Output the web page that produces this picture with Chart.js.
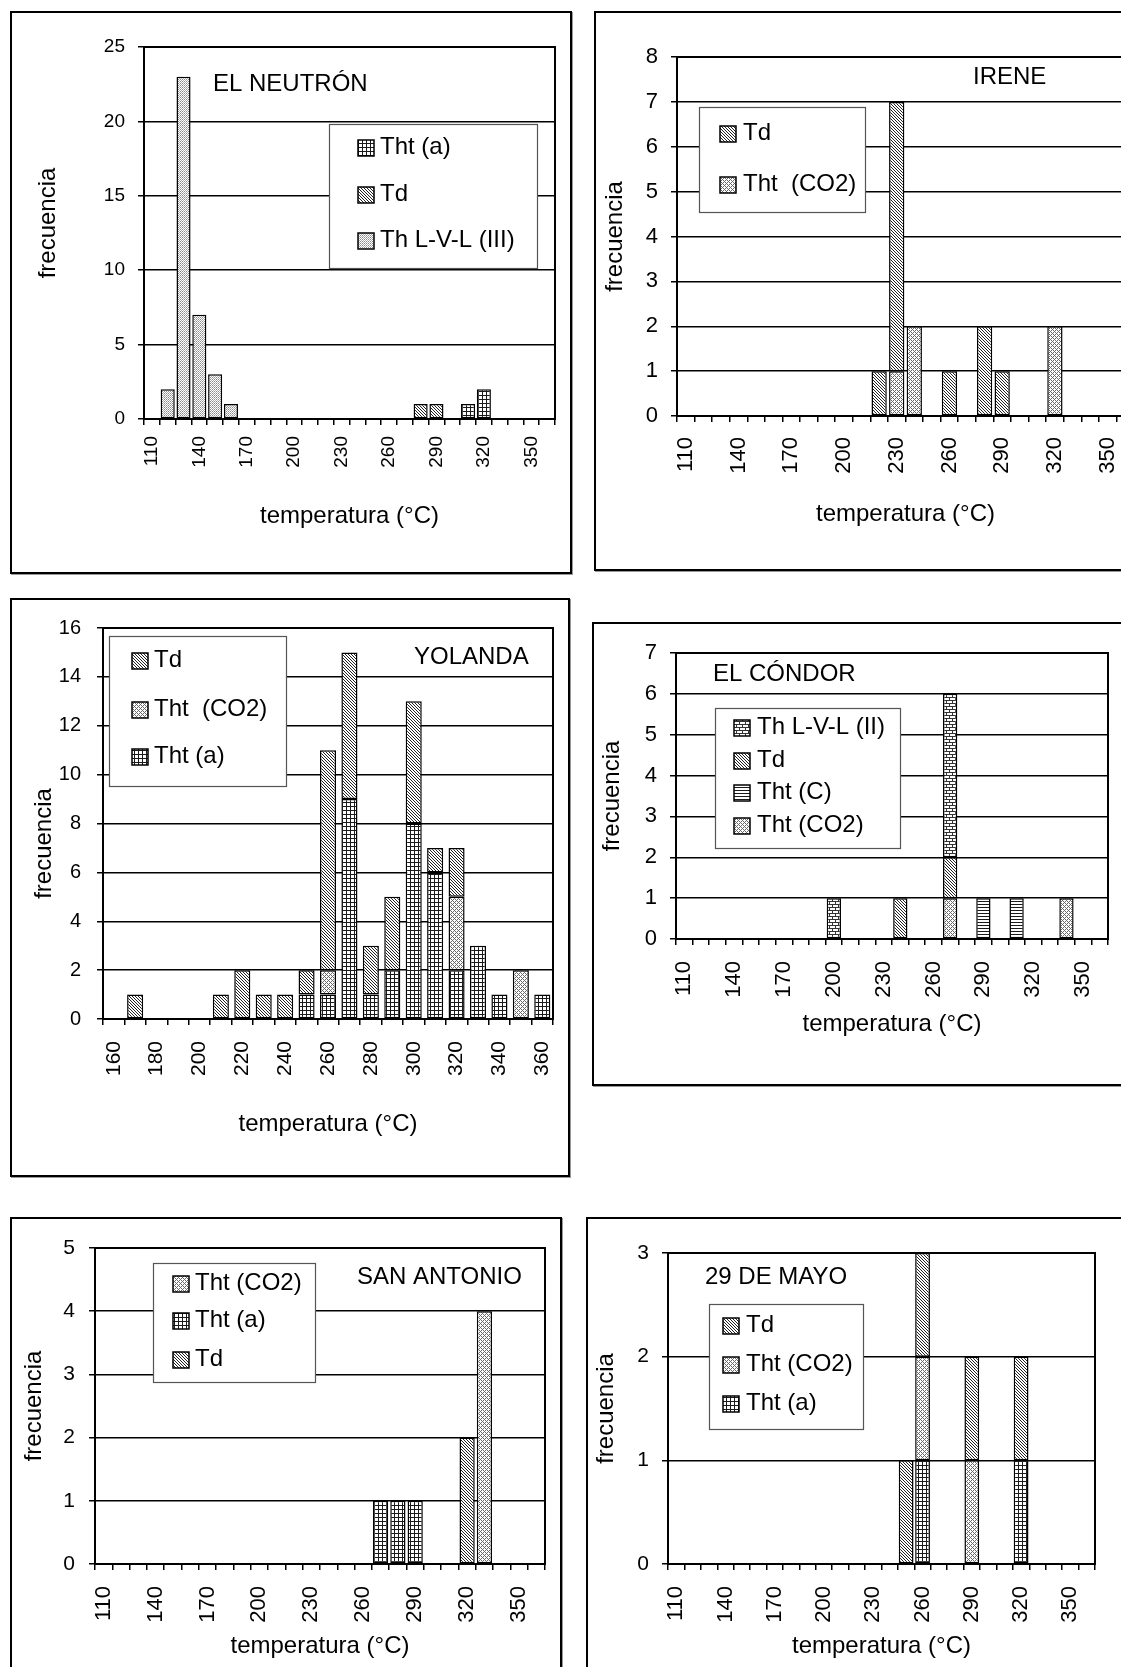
<!DOCTYPE html>
<html>
<head>
<meta charset="utf-8">
<script src="https://cdn.jsdelivr.net/npm/chart.js@4.4.1/dist/chart.umd.min.js"></script>
<style>
html, body { margin: 0; padding: 0; background: #fff; overflow: hidden; width: 1121px; height: 1667px; }
.box { position: absolute; border: 2px solid #000; box-sizing: border-box; box-shadow: 1px 1px 0 #999; }
canvas { position: absolute; }
</style>
</head>
<body>
<div class="box" style="left:10px;top:11px;width:562px;height:563px"></div>
<div class="box" style="left:594px;top:11px;width:620px;height:560px"></div>
<div class="box" style="left:10px;top:598px;width:560px;height:579px"></div>
<div class="box" style="left:592px;top:622px;width:620px;height:464px"></div>
<div class="box" style="left:10px;top:1217px;width:552px;height:520px"></div>
<div class="box" style="left:586px;top:1217px;width:620px;height:520px"></div>

<canvas id="neutron" width="562" height="563" style="left:10px;top:11px"></canvas>
<canvas id="irene" width="566" height="560" style="left:594px;top:11px"></canvas>
<canvas id="yolanda" width="560" height="579" style="left:10px;top:598px"></canvas>
<canvas id="condor" width="568" height="464" style="left:592px;top:622px"></canvas>
<canvas id="antonio" width="552" height="450" style="left:10px;top:1217px"></canvas>
<canvas id="mayo" width="574" height="450" style="left:586px;top:1217px"></canvas>

<script>
// categorías de temperatura (°C)
const temps110 = ['110','120','130','140','150','160','170','180','190','200','210','220','230',
                  '240','250','260','270','280','290','300','310','320','330','340','350','360'];
const temps160 = ['160','170','180','190','200','210','220','230','240','250','260',
                  '270','280','290','300','310','320','330','340','350','360'];

// EL NEUTRÓN (110..360)
const neutronLVL3 = [0,2,23,7,3,1,0,0,0,0,0,0,0,0,0,0,0,0,0,0,0,0,0,0,0,0];
const neutronTd   = [0,0,0,0,0,0,0,0,0,0,0,0,0,0,0,0,0,1,1,0,0,0,0,0,0,0];
const neutronThtA = [0,0,0,0,0,0,0,0,0,0,0,0,0,0,0,0,0,0,0,0,1,2,0,0,0,0];

// IRENE (110..360)
const ireneCO2 = [0,0,0,0,0,0,0,0,0,0,0,0,1,2,0,0,0,0,0,0,0,2,0,0,0,0];
const ireneTd  = [0,0,0,0,0,0,0,0,0,0,0,1,6,0,0,1,0,2,1,0,0,0,0,0,0,0];

// YOLANDA (160..360)
const yolandaThtA = [0,0,0,0,0,0,0,0,0,1,1,9,1,2,8,6,2,3,1,0,1];
const yolandaCO2  = [0,0,0,0,0,0,0,0,0,0,1,0,0,0,0,0,3,0,0,2,0];
const yolandaTd   = [0,1,0,0,0,1,2,1,1,1,9,6,2,3,5,1,2,0,0,0,0];

// EL CÓNDOR (110..360)
const condorCO2  = [0,0,0,0,0,0,0,0,0,0,0,0,0,0,0,0,1,0,0,0,0,0,0,1,0,0];
const condorThtC = [0,0,0,0,0,0,0,0,0,0,0,0,0,0,0,0,0,0,1,0,1,0,0,0,0,0];
const condorTd   = [0,0,0,0,0,0,0,0,0,0,0,0,0,1,0,0,1,0,0,0,0,0,0,0,0,0];
const condorLVL2 = [0,0,0,0,0,0,0,0,0,1,0,0,0,0,0,0,4,0,0,0,0,0,0,0,0,0];

// SAN ANTONIO (110..360)
const antonioTd   = [0,0,0,0,0,0,0,0,0,0,0,0,0,0,0,0,0,0,0,0,0,2,0,0,0,0];
const antonioThtA = [0,0,0,0,0,0,0,0,0,0,0,0,0,0,0,0,1,1,1,0,0,0,0,0,0,0];
const antonioCO2  = [0,0,0,0,0,0,0,0,0,0,0,0,0,0,0,0,0,0,0,0,0,0,4,0,0,0];

// 29 DE MAYO (110..360)
const mayoThtA = [0,0,0,0,0,0,0,0,0,0,0,0,0,0,0,1,0,0,0,0,0,1,0,0,0,0];
const mayoCO2  = [0,0,0,0,0,0,0,0,0,0,0,0,0,0,0,1,0,0,1,0,0,0,0,0,0,0];
const mayoTd   = [0,0,0,0,0,0,0,0,0,0,0,0,0,0,1,1,0,0,1,0,0,1,0,0,0,0];

const FONT = "'Liberation Sans', Arial, sans-serif";

// tramas tipo Excel
function makePattern(kind) {
    var c = document.createElement('canvas');
    var size = { dots: [2, 2], diag: [3, 3], cross: [4, 4], grid: [4, 4], brick: [6, 6], hlines: [3, 3] }[kind];
    c.width = size[0];
    c.height = size[1];
    var g = c.getContext('2d');
    g.fillStyle = '#fff';
    g.fillRect(0, 0, c.width, c.height);
    function px(x, y, col) { g.fillStyle = col; g.fillRect(x, y, 1, 1); }
    if (kind === 'dots') {
        px(0, 0, '#8c8c8c'); px(1, 1, '#b0b0b0');
    } else if (kind === 'diag') {
        for (var i = 0; i < 3; i++) px(i, i, '#222');
    } else if (kind === 'cross') {
        [[0,0],[1,1],[2,2],[3,3],[1,3],[3,1]].forEach(p => px(p[0], p[1], '#6a6a6a'));
    } else if (kind === 'grid') {
        for (var i = 0; i < 4; i++) { px(i, 0, '#1a1a1a'); px(0, i, '#1a1a1a'); }
    } else if (kind === 'brick') {
        for (var i = 0; i < 6; i++) { px(i, 0, '#333'); px(i, 3, '#333'); }
        px(0, 1, '#333'); px(0, 2, '#333'); px(3, 4, '#333'); px(3, 5, '#333');
    } else if (kind === 'hlines') {
        for (var i = 0; i < 3; i++) px(i, 0, '#1a1a1a');
    }
    return g.createPattern(c, 'repeat');
}

const pat = {
    dots: makePattern('dots'), diag: makePattern('diag'), cross: makePattern('cross'),
    grid: makePattern('grid'), brick: makePattern('brick'), hlines: makePattern('hlines')
};

// nombre del yacimiento y leyenda (coordenadas de página)
const decor = {
    neutron: { name: 'EL NEUTRÓN', nx: 213, ny: 84, box: [329, 124, 208, 144], sx: 358, tx: 380,
        rows: [['Tht (a)', 'grid', 148], ['Td', 'diag', 195], ['Th L-V-L (III)', 'dots', 241]] },
    irene: { name: 'IRENE', nx: 973, ny: 77, box: [699, 107, 166, 105], sx: 720, tx: 743,
        rows: [['Td', 'diag', 134], ['Tht  (CO2)', 'cross', 185]] },
    yolanda: { name: 'YOLANDA', nx: 414, ny: 657, box: [109, 636, 177, 150], sx: 132, tx: 154,
        rows: [['Td', 'diag', 661], ['Tht  (CO2)', 'cross', 710], ['Tht (a)', 'grid', 757]] },
    condor: { name: 'EL CÓNDOR', nx: 713, ny: 674, box: [715, 708, 185, 140], sx: 734, tx: 757,
        rows: [['Th L-V-L (II)', 'brick', 728], ['Td', 'diag', 761], ['Tht (C)', 'hlines', 793], ['Tht (CO2)', 'cross', 826]] },
    antonio: { name: 'SAN ANTONIO', nx: 357, ny: 1277, box: [153, 1263, 162, 119], sx: 173, tx: 195,
        rows: [['Tht (CO2)', 'cross', 1284], ['Tht (a)', 'grid', 1321], ['Td', 'diag', 1360]] },
    mayo: { name: '29 DE MAYO', nx: 705, ny: 1277, box: [709, 1304, 154, 125], sx: 723, tx: 746,
        rows: [['Td', 'diag', 1326], ['Tht (CO2)', 'cross', 1365], ['Tht (a)', 'grid', 1404]] }
};

const decorPlugin = {
    id: 'decor',
    afterDraw(chart) {
        const ctx = chart.ctx;
        const a = chart.chartArea;
        const d = decor[chart.canvas.id];
        const ox = chart.canvas.offsetLeft, oy = chart.canvas.offsetTop;
        ctx.save();
        // marco del área de trazado
        ctx.strokeStyle = '#000';
        ctx.lineWidth = 2;
        ctx.strokeRect(a.left, a.top, a.right - a.left, a.bottom - a.top);
        // nombre
        ctx.fillStyle = '#000';
        ctx.font = '24px ' + FONT;
        ctx.textBaseline = 'middle';
        ctx.textAlign = 'left';
        ctx.fillText(d.name, d.nx - ox, d.ny - oy);
        // leyenda
        ctx.fillStyle = '#fff';
        ctx.fillRect(d.box[0] - ox, d.box[1] - oy, d.box[2], d.box[3]);
        ctx.strokeStyle = '#555';
        ctx.lineWidth = 1.2;
        ctx.strokeRect(d.box[0] - ox + 0.5, d.box[1] - oy + 0.5, d.box[2], d.box[3]);
        d.rows.forEach(function(r) {
            var y = r[2] - oy;
            ctx.fillStyle = pat[r[1]];
            ctx.fillRect(d.sx - ox, y - 8, 16, 16);
            ctx.strokeStyle = '#000';
            ctx.lineWidth = 1.5;
            ctx.strokeRect(d.sx - ox, y - 8, 16, 16);
            ctx.fillStyle = '#000';
            ctx.font = '24px ' + FONT;
            ctx.fillText(r[0], d.tx - ox, y - 1);
        });
        ctx.restore();
    }
};

function series(label, values, kind, bp) {
    return {
        label: label,
        data: values.map(v => v === 0 ? null : v),
        backgroundColor: pat[kind],
        borderColor: '#000',
        borderWidth: 1.5,
        borderSkipped: false,
        barPercentage: bp,
        categoryPercentage: 1
    };
}

// p: {id, labels, datasets, ymax, step, every, padTop, padRight, yWidth, xHeight, yFont, xFont,
//     yPad, xPad, yTitle, yTitlePad, xTitlePad}
function panel(p) {
    var ctx = document.getElementById(p.id).getContext('2d');
    return new Chart(ctx, {
        type: 'bar',
        data: { labels: p.labels, datasets: p.datasets },
        options: {
            responsive: false,
            animation: false,
            layout: { padding: { top: p.padTop, right: p.padRight, left: 0, bottom: 0 } },
            plugins: { legend: { display: false }, tooltip: { enabled: false } },
            scales: {
                x: {
                    stacked: true,
                    offset: true,
                    grid: { offset: true, drawOnChartArea: false, drawTicks: true, tickLength: 6, color: '#000', lineWidth: 1.5 },
                    border: { display: true, color: '#000', width: 2 },
                    ticks: {
                        autoSkip: false, minRotation: 90, maxRotation: 90, padding: p.xPad, color: '#000',
                        font: { family: FONT, size: p.xFont },
                        callback: function(value, index) {
                            return index % p.every === 0 ? this.getLabelForValue(value) : '';
                        }
                    },
                    title: {
                        display: true, text: 'temperatura (°C)', color: '#000',
                        font: { family: FONT, size: 24 }, padding: { top: 0, bottom: p.xTitlePad }
                    },
                    afterFit: function(s) {
                        s.height = p.xHeight;
                        // el área de trazado la fija layout.padding, no las etiquetas giradas
                        s.paddingLeft = 0;
                        s.paddingRight = 0;
                    }
                },
                y: {
                    stacked: true,
                    min: 0,
                    max: p.ymax,
                    grid: { color: '#000', lineWidth: 1.5, tickLength: 6 },
                    border: { display: true, color: '#000', width: 2 },
                    ticks: { stepSize: p.step, padding: p.yPad, color: '#000', font: { family: FONT, size: p.yFont } },
                    title: {
                        display: true, text: p.yTitle || 'frecuencia', color: '#000',
                        font: { family: FONT, size: 24 }, padding: { top: p.yTitlePad, bottom: 0 }
                    },
                    afterFit: function(s) { s.width = p.yWidth; }
                }
            }
        },
        plugins: [decorPlugin]
    });
}

panel({
    id: 'neutron', labels: temps110, ymax: 25, step: 5, every: 3,
    datasets: [
        series('Th L-V-L (III)', neutronLVL3, 'dots', 0.89),
        series('Td', neutronTd, 'diag', 0.89),
        series('Tht (a)', neutronThtA, 'grid', 0.89)
    ],
    padTop: 36, padRight: 17, yWidth: 134, xHeight: 155,
    yFont: 19, xFont: 19, yPad: 13, xPad: 11, yTitle: '   frecuencia', yTitlePad: 24, xTitlePad: 43
});

panel({
    id: 'irene', labels: temps110, ymax: 8, step: 1, every: 3,
    datasets: [
        series('Tht  (CO2)', ireneCO2, 'cross', 0.87),
        series('Td', ireneTd, 'diag', 0.87)
    ],
    padTop: 46, padRight: 26, yWidth: 83, xHeight: 155,
    yFont: 22, xFont: 22, yPad: 13, xPad: 15, yTitlePad: 7, xTitlePad: 42
});

panel({
    id: 'yolanda', labels: temps160, ymax: 16, step: 2, every: 2,
    datasets: [
        series('Tht (a)', yolandaThtA, 'grid', 0.75),
        series('Tht  (CO2)', yolandaCO2, 'cross', 0.75),
        series('Td', yolandaTd, 'diag', 0.75)
    ],
    padTop: 30, padRight: 17, yWidth: 93, xHeight: 158,
    yFont: 20, xFont: 21, yPad: 16, xPad: 16, yTitle: 'frecuencia      ', yTitlePad: 20, xTitlePad: 38
});

panel({
    id: 'condor', labels: temps110, ymax: 7, step: 1, every: 3,
    datasets: [
        series('Tht (CO2)', condorCO2, 'cross', 0.86),
        series('Tht (C)', condorThtC, 'hlines', 0.86),
        series('Td', condorTd, 'diag', 0.86),
        series('Th L-V-L (II)', condorLVL2, 'brick', 0.86)
    ],
    padTop: 31, padRight: 52, yWidth: 84, xHeight: 147,
    yFont: 22, xFont: 22, yPad: 13, xPad: 16, yTitlePad: 6, xTitlePad: 47
});

panel({
    id: 'antonio', labels: temps110, ymax: 5, step: 1, every: 3,
    datasets: [
        series('Td', antonioTd, 'diag', 0.88),
        series('Tht (a)', antonioThtA, 'grid', 0.88),
        series('Tht (CO2)', antonioCO2, 'cross', 0.88)
    ],
    padTop: 31, padRight: 17, yWidth: 85, xHeight: 103,
    yFont: 21, xFont: 22, yPad: 14, xPad: 16, yTitlePad: 10, xTitlePad: 6
});

panel({
    id: 'mayo', labels: temps110, ymax: 3, step: 1, every: 3,
    datasets: [
        series('Tht (a)', mayoThtA, 'grid', 0.9),
        series('Tht (CO2)', mayoCO2, 'cross', 0.9),
        series('Td', mayoTd, 'diag', 0.9)
    ],
    padTop: 36, padRight: 65, yWidth: 82, xHeight: 103,
    yFont: 21, xFont: 22, yPad: 13, xPad: 16, yTitlePad: 6, xTitlePad: 6
});
</script>
</body>
</html>
